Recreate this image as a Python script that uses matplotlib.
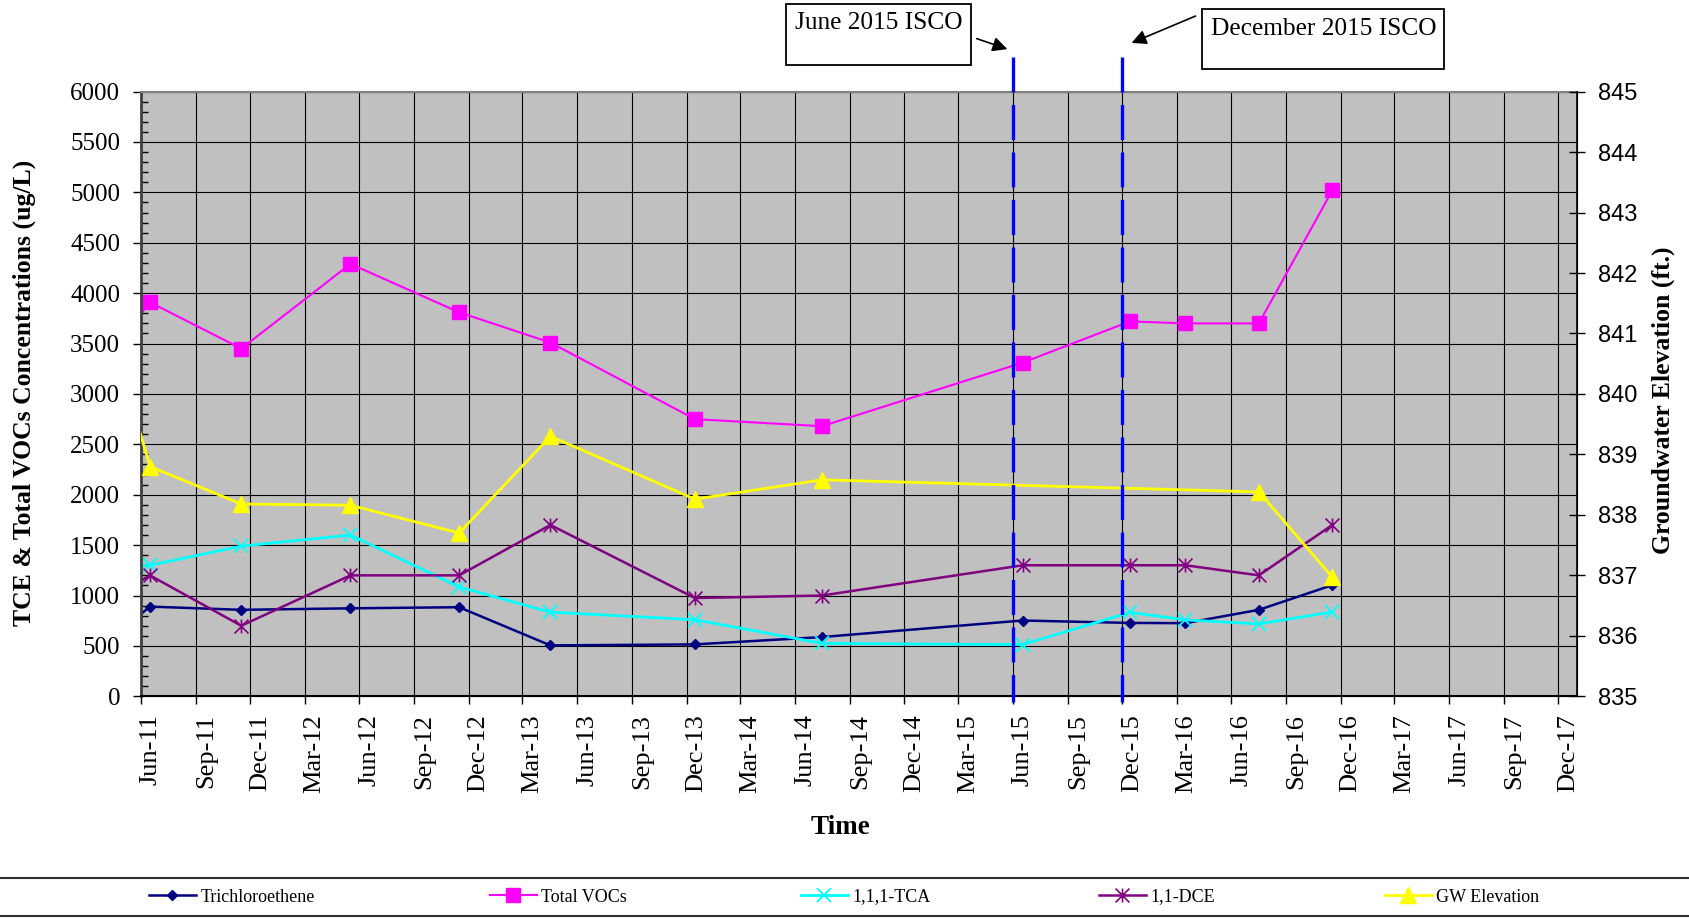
import numpy as np
import pandas as pd
import matplotlib
matplotlib.use('Agg')
import matplotlib.pyplot as plt
import matplotlib.dates as mdates
from matplotlib.path import Path
from matplotlib.lines import Line2D
from matplotlib.patches import Rectangle
from matplotlib.transforms import ScaledTranslation


# ~~~~~~ Data ~~~~~~~~~~~~~~~~~~~~~~~~~~~~~~~~~~~~~~~~~~~~~~~~~~~~~~~~~~~~~~~~~~

# first sample sits just before the axis start and is clipped away
sample_dates = pd.to_datetime([
    '2011-05-16', '2011-06-16', '2011-11-16', '2012-05-17', '2012-11-15',
    '2013-04-17', '2013-12-15', '2014-07-16', '2015-06-17', '2015-12-14',
    '2016-03-16', '2016-07-17', '2016-11-17'])

tce = [738, 890, 858, 873, 884, 505, 515, 588, 752, 728, 726, 858, 1103]
total_vocs = [3673, 3910, 3450, 4290, 3810, 3510, 2750, 2680, 3310, 3720, 3700, 3700, 5020]
tca = [1300, 1300, 1490, 1600, 1085, 835, 760, 525, 513, 833, 758, 718, 837]
dce = [1092, 1200, 700, 1200, 1200, 1700, 975, 1000, 1300, 1300, 1300, 1200, 1700]

gw_dates = pd.to_datetime([
    '2011-05-16', '2011-06-16', '2011-11-16', '2012-05-17', '2012-11-15',
    '2013-04-17', '2013-12-15', '2014-07-16', '2016-07-17', '2016-11-17'])
gw_elev = [839.85, 838.80, 838.18, 838.16, 837.70, 839.30, 838.26, 838.58, 838.38, 836.97]

isco_dates = pd.to_datetime(['2015-06-01', '2015-12-01'])
isco_labels = ['June 2015 ISCO', 'December 2015 ISCO']

tick_dates = pd.date_range('2011-06-01', '2017-12-01', freq='3MS')


# ~~~~~~ Figure ~~~~~~~~~~~~~~~~~~~~~~~~~~~~~~~~~~~~~~~~~~~~~~~~~~~~~~~~~~~~~~~~

W, H = 1690, 919
serif = 'Liberation Serif'
sans = 'Liberation Sans'

fig = plt.figure(figsize=(W / 100, H / 100), dpi=100)
ax = fig.add_axes([141 / W, 1 - 696.3 / H, (1577 - 141) / W, (696.3 - 91.6) / H])
ax.set_facecolor('#C0C0C0')
ax.set_axisbelow(True)

star = Path([(0, -1), (0, 1), (-1, -1), (1, 1), (-1, 1), (1, -1)],
            [Path.MOVETO, Path.LINETO] * 3)

h1, = ax.plot(sample_dates, tce, color='#000080', lw=1.8, marker='D', ms=5.5,
              label='Trichloroethene')
h2, = ax.plot(sample_dates, total_vocs, color='#FF00FF', lw=1.5, marker='s', ms=10,
              label='Total VOCs')
h3, = ax.plot(sample_dates, tca, color='#00FFFF', lw=2.0, marker='x', ms=10, mew=1.3,
              label='1,1,1-TCA')
h4, = ax.plot(sample_dates, dce, color='#800080', lw=1.8, marker=star, ms=10, mew=1.2,
              label='1,1-DCE')

ax.set_xlim(pd.Timestamp('2011-06-01'), pd.Timestamp('2018-01-01'))
ax.set_ylim(0, 6000)
ax.set_yticks(np.arange(0, 6001, 500))
ax.set_yticks(np.arange(0, 6001, 100), minor=True)
ax.set_xticks(tick_dates)
ax.xaxis.set_major_formatter(mdates.DateFormatter('%b-%y'))
ax.grid(True, which='major', color='black', lw=0.8)

ax.tick_params(axis='y', which='major', direction='out', length=6, width=1, pad=9,
               labelsize=18)
ax.tick_params(axis='y', which='minor', direction='in', length=5, width=1)
ax.tick_params(axis='x', which='major', direction='out', length=6, width=1, pad=7,
               labelsize=19, labelrotation=90)
for lab in ax.get_yticklabels():
    lab.set_fontfamily(serif)
offset = ScaledTranslation(10 / 100, 0, fig.dpi_scale_trans)
for lab in ax.get_xticklabels():
    lab.set_fontfamily(serif)
    lab.set_transform(lab.get_transform() + offset)

ax.spines['left'].set_color('#404040')
ax.spines['left'].set_linewidth(2)
ax.spines['top'].set_color('#808080')
ax.spines['top'].set_linewidth(1.5)
ax.spines['bottom'].set_linewidth(1.5)

ax2 = ax.twinx()
h5, = ax2.plot(gw_dates, gw_elev, color='#FFFF00', lw=2.0, marker='^', ms=11,
               label='GW Elevation')
ax2.set_ylim(835, 845)
ax2.set_yticks(np.arange(835, 846, 1))
ax2.tick_params(axis='y', direction='inout', length=12, width=1, pad=9, labelsize=17)
for lab in ax2.get_yticklabels():
    lab.set_fontfamily(sans)
ax2.spines['right'].set_linewidth(1.2)
ax2.spines['left'].set_visible(False)
ax2.spines['top'].set_visible(False)
ax2.set_xlim(pd.Timestamp('2011-06-01'), pd.Timestamp('2018-01-01'))

# ISCO event lines
for d in isco_dates:
    ax2.plot([d, d], [1.0577, -0.009], transform=ax2.get_xaxis_transform(),
             color='#0000FF', lw=2.4, dashes=(10.5, 3.75), clip_on=False, zorder=10)


# ~~~~~~ Labels ~~~~~~~~~~~~~~~~~~~~~~~~~~~~~~~~~~~~~~~~~~~~~~~~~~~~~~~~~~~~~~~~

fig.text(24 / W, 1 - 393 / H, 'TCE & Total VOCs Concentrations (ug/L)', rotation=90,
         ha='center', va='center', fontsize=18.5, fontweight='bold', family=serif)
fig.text(1663 / W, 1 - 400 / H, 'Groundwater Elevation (ft.)', rotation=90,
         ha='center', va='center', fontsize=18.5, fontweight='bold', family=serif)
fig.text(840 / W, 1 - 828 / H, 'Time', ha='center', va='center', fontsize=19.5,
         fontweight='bold', family=serif)

# annotation boxes (pixel layout, origin top-left)
boxes = [(786, 4, 971, 65, 22.7), (1202, 9, 1444, 69, 29)]
arrows = [((974, 37.7), (1010, 50)), ((1198, 15), (1129, 44))]
for (x0, y0, x1, y1, ty), label, (p0, p1) in zip(boxes, isco_labels, arrows):
    fig.patches.append(Rectangle((x0 / W, 1 - y1 / H), (x1 - x0) / W, (y1 - y0) / H,
                                 transform=fig.transFigure, fill=False,
                                 edgecolor='black', lw=1.3))
    fig.text((x0 + 9) / W, 1 - ty / H, label, ha='left', va='center', fontsize=18.3,
             family=serif)
    ax.annotate('', xy=(p1[0], H - p1[1]), xytext=(p0[0], H - p0[1]),
                xycoords='figure pixels', textcoords='figure pixels',
                arrowprops=dict(arrowstyle='-|>', color='black', lw=1.2,
                                mutation_scale=22))


# ~~~~~~ Legend ~~~~~~~~~~~~~~~~~~~~~~~~~~~~~~~~~~~~~~~~~~~~~~~~~~~~~~~~~~~~~~~~

for yy in [878, 916]:
    fig.add_artist(Line2D([0, 1], [1 - yy / H, 1 - yy / H], transform=fig.transFigure,
                          color='#303030', lw=1.5))

legend_x = [149, 490, 801, 1099, 1385]
for h, lx in zip([h1, h2, h3, h4, h5], legend_x):
    fig.legend(handles=[h], loc='center left', bbox_to_anchor=(lx / W, 1 - 897 / H),
               frameon=False, borderpad=0, borderaxespad=0, handlelength=2.6,
               handletextpad=0.25, prop={'family': serif, 'size': 13})

fig.savefig('out.png', dpi=100)
